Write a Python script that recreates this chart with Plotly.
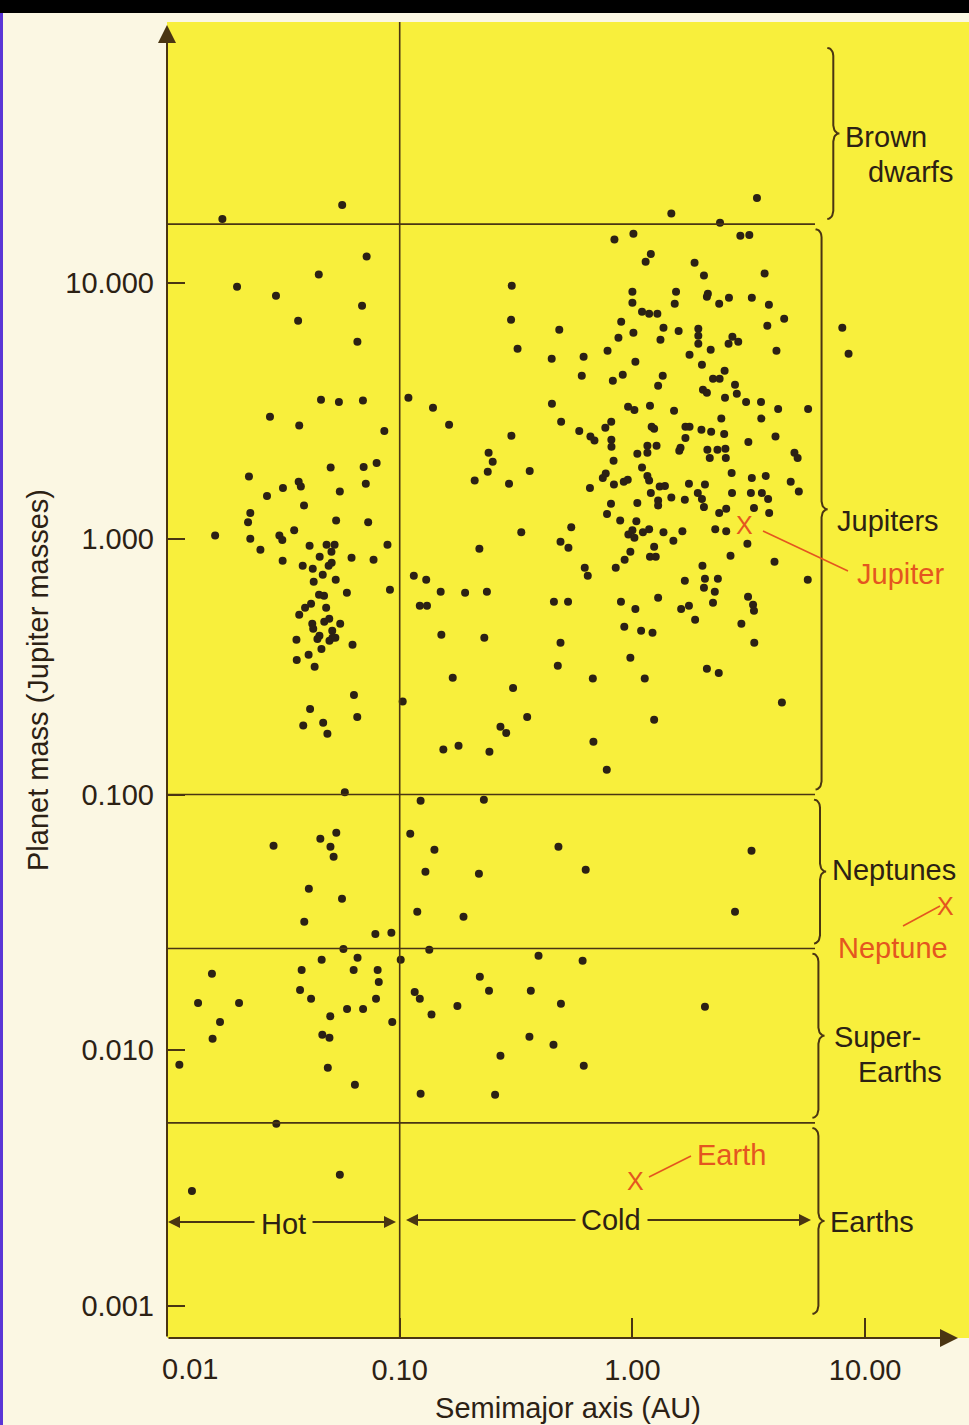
import math
import plotly.graph_objects as go

# ---------------- data (semimajor axis in AU, mass in Jupiter masses) ----------------
brown_dwarf_a = [0.0566, 0.0173, 3.43, 1.47, 2.38]
brown_dwarf_m = [20.2, 17.8, 21.5, 18.7, 17.2]

hot_jupiter_a = [0.0721, 0.0449, 0.0200, 0.0294, 0.0689, 0.0366, 0.0658, 0.0459, 0.0548, 0.0695,
                 0.0277, 0.0370, 0.0859, 0.0505, 0.0700, 0.0796, 0.0225, 0.0315, 0.0368, 0.0376,
                 0.0269, 0.0553, 0.0715, 0.0388, 0.0228, 0.0223, 0.0533, 0.0732, 0.0161, 0.0228,
                 0.0304, 0.0313, 0.0352, 0.0252, 0.0410, 0.0485, 0.0525, 0.0509, 0.0886, 0.0314,
                 0.0453, 0.0621, 0.0772, 0.0383, 0.0423, 0.0510, 0.0495, 0.0467, 0.0531, 0.0427,
                 0.0593, 0.0908, 0.0450, 0.0473, 0.0416, 0.0392, 0.0370, 0.0483, 0.0498, 0.0474,
                 0.0421, 0.0425, 0.0555, 0.0513, 0.0452, 0.0443, 0.0514, 0.0499, 0.0529, 0.0360,
                 0.0627, 0.0461, 0.0406, 0.0361, 0.0431, 0.0636, 0.0412, 0.0657, 0.0469, 0.0385,
                 0.0489, 0.0581]
hot_jupiter_m = [12.7, 10.8, 9.67, 8.91, 8.15, 7.12, 5.89, 3.50, 3.43, 3.47,
                 3.00, 2.77, 2.64, 1.90, 1.91, 1.98, 1.75, 1.58, 1.67, 1.60,
                 1.47, 1.53, 1.64, 1.35, 1.26, 1.16, 1.18, 1.16, 1.03, 1.00,
                 1.03, 0.99, 1.08, 0.906, 0.939, 0.947, 0.947, 0.890, 0.947, 0.820,
                 0.850, 0.843, 0.828, 0.784, 0.763, 0.806, 0.784, 0.723, 0.691, 0.679,
                 0.615, 0.632, 0.604, 0.599, 0.557, 0.537, 0.505, 0.537, 0.487, 0.474,
                 0.465, 0.445, 0.465, 0.437, 0.418, 0.406, 0.410, 0.399, 0.410, 0.403,
                 0.385, 0.371, 0.352, 0.336, 0.316, 0.245, 0.216, 0.201, 0.191, 0.186,
                 0.173, 0.102]

cold_jupiter_a = [0.109, 0.103, 0.837, 0.303, 0.301, 0.485, 0.321, 0.450, 0.617, 0.606,
                  0.782, 0.871, 0.895, 0.824, 0.909, 0.139, 0.163, 0.451, 0.494, 0.591,
                  0.660, 0.687, 0.765, 0.811, 0.812, 0.813, 0.958, 0.302, 0.241, 0.251,
                  0.239, 0.210, 0.295, 0.362, 0.657, 0.830, 0.746, 0.768, 0.833, 0.918,
                  0.955, 0.809, 0.778, 0.886, 0.961, 0.980, 0.333, 0.546, 0.491, 0.531,
                  0.220, 0.926, 0.848, 0.624, 0.643, 0.115, 0.130, 0.150, 0.191, 0.237,
                  0.122, 0.131, 0.460, 0.529, 0.893, 0.923, 0.151, 0.231, 0.491, 0.478,
                  0.980, 0.169, 0.676, 0.307, 0.353, 0.271, 0.287, 0.154, 0.179, 0.243,
                  0.680, 0.776,
                  1.01, 2.91, 3.18, 1.20, 1.14, 1.85, 2.03, 3.70, 1.00, 1.54,
                  1.00, 1.52, 2.11, 2.09, 2.60, 3.26, 2.36, 3.86, 1.10, 1.18,
                  1.28, 1.36, 1.58, 1.92, 1.92, 1.92, 3.80, 4.49, 1.01, 1.32,
                  2.69, 2.85, 2.59, 1.76, 2.17, 4.16, 1.03, 1.99, 1.35, 1.29,
                  2.49, 2.22, 2.37, 2.01, 2.09, 2.76, 2.81, 2.50, 3.08, 3.57,
                  4.23, 5.69, 1.02, 1.19, 1.51, 2.41, 3.58, 1.21, 1.24, 1.69,
                  1.76, 1.98, 2.18, 2.48, 4.12, 1.16, 1.27, 1.16, 1.69, 1.61,
                  1.59, 2.10, 2.32, 2.51, 2.15, 2.52, 3.15, 4.97, 5.13, 1.05,
                  1.10, 1.16, 1.18, 1.31, 1.38, 1.75, 2.05, 2.67, 3.26, 3.74,
                  4.79, 5.19, 1.20, 1.91, 2.68, 3.23, 3.60, 3.83, 1.47, 1.68,
                  1.99, 2.03, 1.29, 1.29, 1.05, 3.33, 3.87, 2.36, 2.53, 1.04,
                  1.00, 1.02, 1.11, 1.18, 1.36, 1.64, 1.50, 2.27, 2.53, 3.12,
                  1.24, 1.19, 1.26, 2.64, 4.08, 5.67, 2.00, 1.68, 2.05, 2.33,
                  2.03, 2.26, 2.22, 3.14, 3.30, 3.33, 1.29, 1.03, 1.75, 1.62,
                  1.86, 2.94, 1.09, 1.22, 3.34, 2.09, 2.35, 1.13, 4.39, 1.24,
                  7.98, 8.49]
cold_jupiter_m = [3.56, 0.231, 14.8, 9.76, 7.18, 6.56, 5.53, 5.06, 5.15, 4.34,
                  5.43, 6.11, 7.06, 4.15, 4.38, 3.25, 2.79, 3.37, 2.87, 2.64,
                  2.51, 2.42, 2.72, 2.87, 2.44, 2.29, 3.28, 2.53, 2.17, 2.00,
                  1.83, 1.69, 1.64, 1.84, 1.58, 2.02, 1.73, 1.80, 1.63, 1.67,
                  1.70, 1.37, 1.25, 1.18, 1.04, 0.890, 1.06, 1.11, 0.973, 0.922,
                  0.914, 0.828, 0.770, 0.770, 0.717, 0.717, 0.691, 0.621, 0.615, 0.621,
                  0.547, 0.547, 0.567, 0.567, 0.567, 0.453, 0.421, 0.410, 0.392, 0.319,
                  0.343, 0.286, 0.284, 0.261, 0.201, 0.184, 0.174, 0.150, 0.155, 0.147,
                  0.161, 0.125,
                  15.6, 15.3, 15.4, 13.0, 12.1, 12.0, 10.7, 10.9, 9.24, 9.24,
                  8.37, 8.30, 9.08, 8.84, 8.75, 8.75, 8.30, 8.22, 7.72, 7.59,
                  7.59, 6.68, 6.50, 6.62, 6.22, 5.79, 6.80, 7.25, 6.39, 6.00,
                  6.17, 5.89, 5.79, 5.24, 5.48, 5.43, 4.92, 4.79, 4.34, 3.97,
                  4.54, 4.22, 4.22, 3.83, 3.72, 4.00, 3.69, 3.56, 3.43, 3.43,
                  3.22, 3.22, 3.19, 3.31, 3.17, 2.95, 2.95, 2.74, 2.69, 2.74,
                  2.74, 2.67, 2.62, 2.57, 2.51, 2.31, 2.31, 2.17, 2.48, 2.27,
                  2.21, 2.23, 2.23, 2.25, 2.07, 2.07, 2.39, 2.17, 2.07, 2.15,
                  1.90, 1.76, 1.69, 1.60, 1.61, 1.64, 1.63, 1.81, 1.73, 1.76,
                  1.67, 1.53, 1.51, 1.51, 1.51, 1.51, 1.51, 1.43, 1.45, 1.42,
                  1.43, 1.33, 1.41, 1.35, 1.38, 1.32, 1.26, 1.26, 1.31, 1.17,
                  1.08, 1.01, 1.06, 1.09, 1.06, 1.07, 0.982, 1.09, 1.07, 0.956,
                  0.930, 0.850, 0.850, 0.858, 0.813, 0.691, 0.784, 0.685, 0.698, 0.698,
                  0.643, 0.621, 0.562, 0.593, 0.552, 0.523, 0.588, 0.532, 0.547, 0.532,
                  0.482, 0.465, 0.437, 0.429, 0.392, 0.310, 0.299, 0.284, 0.229, 0.196,
                  6.68, 5.29]

neptune_a = [0.123, 0.230, 0.0287, 0.0456, 0.0534, 0.0504, 0.0520, 0.111, 0.141, 0.129,
             0.219, 0.0407, 0.0565, 0.0389, 0.119, 0.188, 0.0786, 0.0921, 0.481, 0.630,
             3.25, 2.76]
neptune_m = [0.0945, 0.0954, 0.0630, 0.0671, 0.0709, 0.0625, 0.0571, 0.0702, 0.0608, 0.0499,
             0.0490, 0.0428, 0.0391, 0.0318, 0.0348, 0.0333, 0.0285, 0.0288, 0.0625, 0.0508,
             0.0603, 0.0348]

super_earth_a = [0.0573, 0.134, 0.0462, 0.0659, 0.101, 0.0156, 0.0379, 0.0634, 0.0804, 0.0813,
                 0.0373, 0.0416, 0.0136, 0.0204, 0.221, 0.242, 0.116, 0.122, 0.0791, 0.0594,
                 0.0696, 0.177, 0.0503, 0.137, 0.0169, 0.0929, 0.0157, 0.0465, 0.0499, 0.0113,
                 0.0491, 0.0642, 0.123, 0.257, 0.395, 0.611, 0.366, 0.493, 2.05, 0.361,
                 0.458, 0.271, 0.618]
super_earth_m = [0.0249, 0.0247, 0.0226, 0.0230, 0.0226, 0.0199, 0.0206, 0.0206, 0.0206, 0.0185,
                 0.0172, 0.0159, 0.0153, 0.0153, 0.0194, 0.0171, 0.0169, 0.0159, 0.0159, 0.0145,
                 0.0145, 0.0149, 0.0136, 0.0138, 0.0129, 0.0129, 0.0111, 0.0115, 0.0112, 0.00878,
                 0.00855, 0.00733, 0.00676, 0.00670, 0.0234, 0.0224, 0.0171, 0.0152, 0.0148, 0.0113,
                 0.0105, 0.00952, 0.00870]

earth_a = [0.0295, 0.0553, 0.0128]
earth_m = [0.00516, 0.00326, 0.00282]

solar_names = ["Jupiter", "Neptune", "Earth"]
solar_a = [3.03, 22.1, 1.03]
solar_m = [1.10, 0.0357, 0.0030]

# class boundaries (Jupiter masses) and class labels
boundaries = [17.0, 0.1, 0.025, 0.0052]
class_ranges = [(17.0, 87.0), (0.1, 17.0), (0.025, 0.1), (0.0052, 0.025), (0.00089, 0.0052)]
hot_cold_limit = 0.1

x_ticks = [0.01, 0.1, 1, 10]
x_ticktext = ["", "0.10", "1.00", "10.00"]
y_ticks = [0.001, 0.01, 0.1, 1, 10]
y_ticktext = ["0.001", "0.010", "0.100", "1.000", "10.000"]

# ---------------- styling / layout geometry ----------------
W, H = 969, 1425
ML, MR, MT, MB = 167, 0, 22, 87
PW, PH = W - ML - MR, H - MT - MB
X_RANGE = [-2.0, -2.0 + PW / 232.7]
Y_RANGE = [-3.125, -3.125 + PH / 255.75]
PX_DEC_X = PW / (X_RANGE[1] - X_RANGE[0])
PX_DEC_Y = PH / (Y_RANGE[1] - Y_RANGE[0])

FONT = "Liberation Sans, Arial, Helvetica, sans-serif"
INK = "#2c2114"
LINE = "#4a3512"
ORANGE = "#e4561f"
YELLOW = "#f8ef3c"
PAPER = "#fbf7e3"
FS = 29


def px(x):
    return (x - ML) / PW


def py(y):
    return (H - MB - y) / PH


all_a = brown_dwarf_a + hot_jupiter_a + cold_jupiter_a + neptune_a + super_earth_a + earth_a
all_m = brown_dwarf_m + hot_jupiter_m + cold_jupiter_m + neptune_m + super_earth_m + earth_m

fig = go.Figure()

fig.add_trace(go.Scatter(
    x=all_a, y=all_m, mode="markers",
    marker=dict(size=8, color=INK, line=dict(width=0)),
    hoverinfo="x+y", showlegend=False))

# solar-system planets as orange X glyphs
fig.add_trace(go.Scatter(
    x=solar_a, y=solar_m, mode="text", text=["X"] * len(solar_a),
    textfont=dict(family=FONT, size=25, color=ORANGE),
    textposition="middle center", hovertext=solar_names, hoverinfo="text",
    showlegend=False, cliponaxis=False))


# curly braces to the right of each class band
def brace(lo, hi, a_pos, w=6.0, rpx=8.0):
    xb = math.log10(a_pos)
    top, bot = math.log10(hi), math.log10(lo)
    gap = 0.02
    top -= gap
    bot += gap
    mid = 0.5 * (top + bot)
    r = rpx / PX_DEC_Y
    xs, ys = [], []

    def arc(cx_px, cy, t0, t1, n=8):
        for i in range(n + 1):
            t = math.radians(t0 + (t1 - t0) * i / n)
            xs.append(xb + (cx_px + w * math.cos(t)) / PX_DEC_X)
            ys.append(cy + r * math.sin(t))

    arc(-w, top - r, 90, 0)
    arc(w, mid + r, 180, 270)
    arc(w, mid - r, 90, 180)
    arc(-w, bot + r, 0, -90)
    return [10 ** v for v in xs], [10 ** v for v in ys]


brace_a = [7.3, 6.5, 6.4, 6.3, 6.3]
for (lo, hi), ba in zip(class_ranges, brace_a):
    bx, by = brace(lo, hi, ba)
    fig.add_trace(go.Scatter(x=bx, y=by, mode="lines",
                             line=dict(color=LINE, width=2),
                             hoverinfo="skip", showlegend=False))

shapes = []
# hot / cold divider
shapes.append(dict(type="line", xref="x", yref="paper", x0=hot_cold_limit, x1=hot_cold_limit,
                   y0=0, y1=1, line=dict(color=LINE, width=1.6)))
# class boundary lines
for b in boundaries:
    shapes.append(dict(type="line", xref="paper", yref="y", x0=0, x1=px(815),
                       y0=b, y1=b, line=dict(color=LINE, width=1.6)))
# connector lines for solar-system labels
for (x0, y0, x1, y1) in [(763, 531, 848, 571), (649, 1177, 691, 1156), (903, 926, 940, 906)]:
    shapes.append(dict(type="line", xref="paper", yref="paper", x0=px(x0), y0=py(y0),
                       x1=px(x1), y1=py(y1), line=dict(color=ORANGE, width=1.6)))
# photo framing: black band on top, thin purple strip on left
shapes.append(dict(type="rect", xref="paper", yref="paper", x0=px(-5), x1=px(W + 5),
                   y0=py(13), y1=py(-5), fillcolor="#000000", line=dict(width=0), layer="above"))
shapes.append(dict(type="rect", xref="paper", yref="paper", x0=px(-2), x1=px(3),
                   y0=py(H + 5), y1=py(13), fillcolor="#5a36d6", line=dict(width=0), layer="above"))

annotations = []


def label(text, x, y, color=INK, anchor="left"):
    annotations.append(dict(text=text, xref="paper", yref="paper", x=px(x), y=py(y),
                            xanchor=anchor, yanchor="middle", showarrow=False,
                            font=dict(family=FONT, size=FS, color=color)))


def arrow(hx, hy, tx, ty, size=1.2):
    annotations.append(dict(text="", xref="paper", yref="paper", x=px(hx), y=py(hy),
                            ax=tx - hx, ay=ty - hy, axref="pixel", ayref="pixel",
                            showarrow=True, arrowhead=2, arrowsize=size, arrowwidth=2,
                            arrowcolor=LINE))


label("Brown", 843, 137)
label("dwarfs", 866, 172)
label("Jupiters", 835, 521)
label("Neptunes", 830, 870)
label("Super-", 832, 1037)
label("Earths", 856, 1072)
label("Earths", 828, 1222)
label("Jupiter", 855, 574, ORANGE)
label("Neptune", 836, 948, ORANGE)
label("Earth", 695, 1155, ORANGE)
label("Hot", 283, 1224, anchor="center")
label("Cold", 611, 1220, anchor="center")
# first x tick label sits to the right of the y axis in the original
label("0.01", 190, 1369, anchor="center")

# hot / cold range arrows
arrow(168, 1222, 256, 1222)
arrow(396, 1222, 311, 1222)
arrow(406, 1220, 577, 1220)
arrow(811, 1220, 646, 1220)
# axis arrows
arrow(ML, 25, ML, H - MB, size=1.8)
arrow(958, H - MB, ML, H - MB, size=1.8)

fig.update_layout(
    width=W, height=H,
    margin=dict(l=ML, r=MR, t=MT, b=MB, pad=0),
    paper_bgcolor=PAPER, plot_bgcolor=YELLOW,
    font=dict(family=FONT, size=FS, color=INK),
    shapes=shapes, annotations=annotations,
    showlegend=False,
)

fig.update_xaxes(
    type="log", range=X_RANGE, showgrid=False, zeroline=False, showline=False,
    tickvals=x_ticks, ticktext=x_ticktext, ticks="inside", ticklen=20, tickwidth=2,
    tickcolor=LINE, tickfont=dict(family=FONT, size=FS, color=INK), ticklabelstandoff=12,
    title=dict(text="Semimajor axis (AU)", font=dict(family=FONT, size=FS, color=INK), standoff=12),
    automargin=False, fixedrange=True)

fig.update_yaxes(
    type="log", range=Y_RANGE, showgrid=False, zeroline=False, showline=False,
    tickvals=y_ticks, ticktext=y_ticktext, ticks="inside", ticklen=18, tickwidth=2,
    tickcolor=LINE, tickfont=dict(family=FONT, size=FS, color=INK), ticklabelstandoff=12,
    title=dict(text="Planet mass (Jupiter masses)", font=dict(family=FONT, size=FS, color=INK), standoff=8),
    automargin=False, fixedrange=True)

fig.write_html("out.html", config={"displayModeBar": False},
               post_script="document.body.style.margin='0px';")
